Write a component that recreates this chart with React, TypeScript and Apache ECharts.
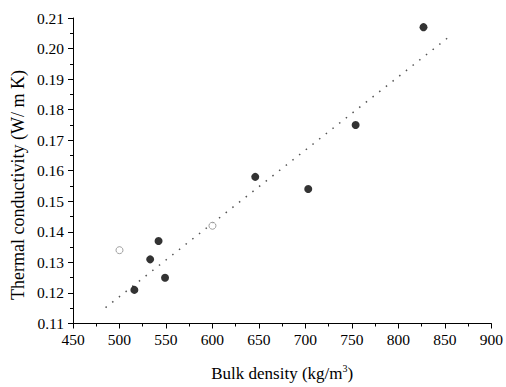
import React, { useEffect, useRef } from "react";
import * as echarts from "echarts";

const filledPoints: [number, number][] = [
  [516, 0.121],
  [533, 0.131],
  [542, 0.137],
  [549, 0.125],
  [646, 0.158],
  [703, 0.154],
  [754, 0.175],
  [827, 0.207],
];
const openPoints: [number, number][] = [
  [500, 0.134],
  [600, 0.142],
];
const fitLine: [number, number][] = [
  [485, 0.1152],
  [853, 0.2035],
];
const xTicks = { min: 450, max: 900, interval: 50 };
const yTicks = { min: 0.11, max: 0.21, interval: 0.01 };

const FONT = "'Liberation Serif', 'Times New Roman', serif";

export default function App() {
  const ref = useRef<HTMLDivElement>(null);
  useEffect(() => {
    if (!ref.current) return;
    const chart = echarts.init(ref.current, undefined, { renderer: "svg" });
    const axisCommon = {
      axisLine: { show: true, lineStyle: { color: "#000", width: 1 } },
      axisTick: { show: true, inside: false, length: 5, lineStyle: { color: "#000" } },
      minorTick: { show: true, splitNumber: 2, length: 3, lineStyle: { color: "#000" } },
      splitLine: { show: false },
      axisLabel: { color: "#000", fontFamily: FONT, fontSize: 15.5 },
    };
    chart.setOption({
      animation: false,
      backgroundColor: "#fff",
      grid: { left: 73, right: 11, top: 18, bottom: 59, containLabel: false },
      xAxis: {
        type: "value",
        min: xTicks.min,
        max: xTicks.max,
        interval: xTicks.interval,
        ...axisCommon,
        axisLabel: { ...axisCommon.axisLabel, margin: 8 },
        name: "{a|Bulk density (kg/m}{s|3}{a|)}",
        nameLocation: "middle",
        nameGap: 40,
        nameTextStyle: {
          rich: {
            a: { fontFamily: FONT, fontSize: 17, color: "#000" },
            s: { fontFamily: FONT, fontSize: 10, color: "#000", verticalAlign: "top", padding: [0, 0, 10, 0] },
          },
        },
      },
      yAxis: {
        type: "value",
        min: yTicks.min,
        max: yTicks.max,
        interval: yTicks.interval,
        ...axisCommon,
        axisLabel: {
          ...axisCommon.axisLabel,
          margin: 9,
          formatter: (v: number) => v.toFixed(2),
        },
      },
      graphic: [
        {
          type: "text",
          x: 18,
          y: 185,
          rotation: Math.PI / 2,
          style: {
            text: "Thermal conductivity (W/ m K)",
            fontFamily: FONT,
            fontSize: 18,
            fill: "#000",
            align: "center",
            verticalAlign: "middle",
          },
        },
      ],
      series: [
        {
          type: "line",
          data: fitLine,
          symbol: "none",
          lineStyle: { color: "#555", width: 1.5, type: [1.5, 7] },
          z: 1,
        },
        {
          type: "scatter",
          data: filledPoints,
          symbol: "circle",
          symbolSize: 8,
          itemStyle: { color: "#000" },
          z: 3,
        },
        {
          type: "scatter",
          data: openPoints,
          symbol: "circle",
          symbolSize: 7,
          itemStyle: { color: "#fff", borderColor: "#888", borderWidth: 1 },
          z: 3,
        },
      ],
    });
    return () => chart.dispose();
  }, []);
  return <div ref={ref} style={{ width: 506, height: 387, position: "absolute", left: 0, top: 0 }} />;
}
